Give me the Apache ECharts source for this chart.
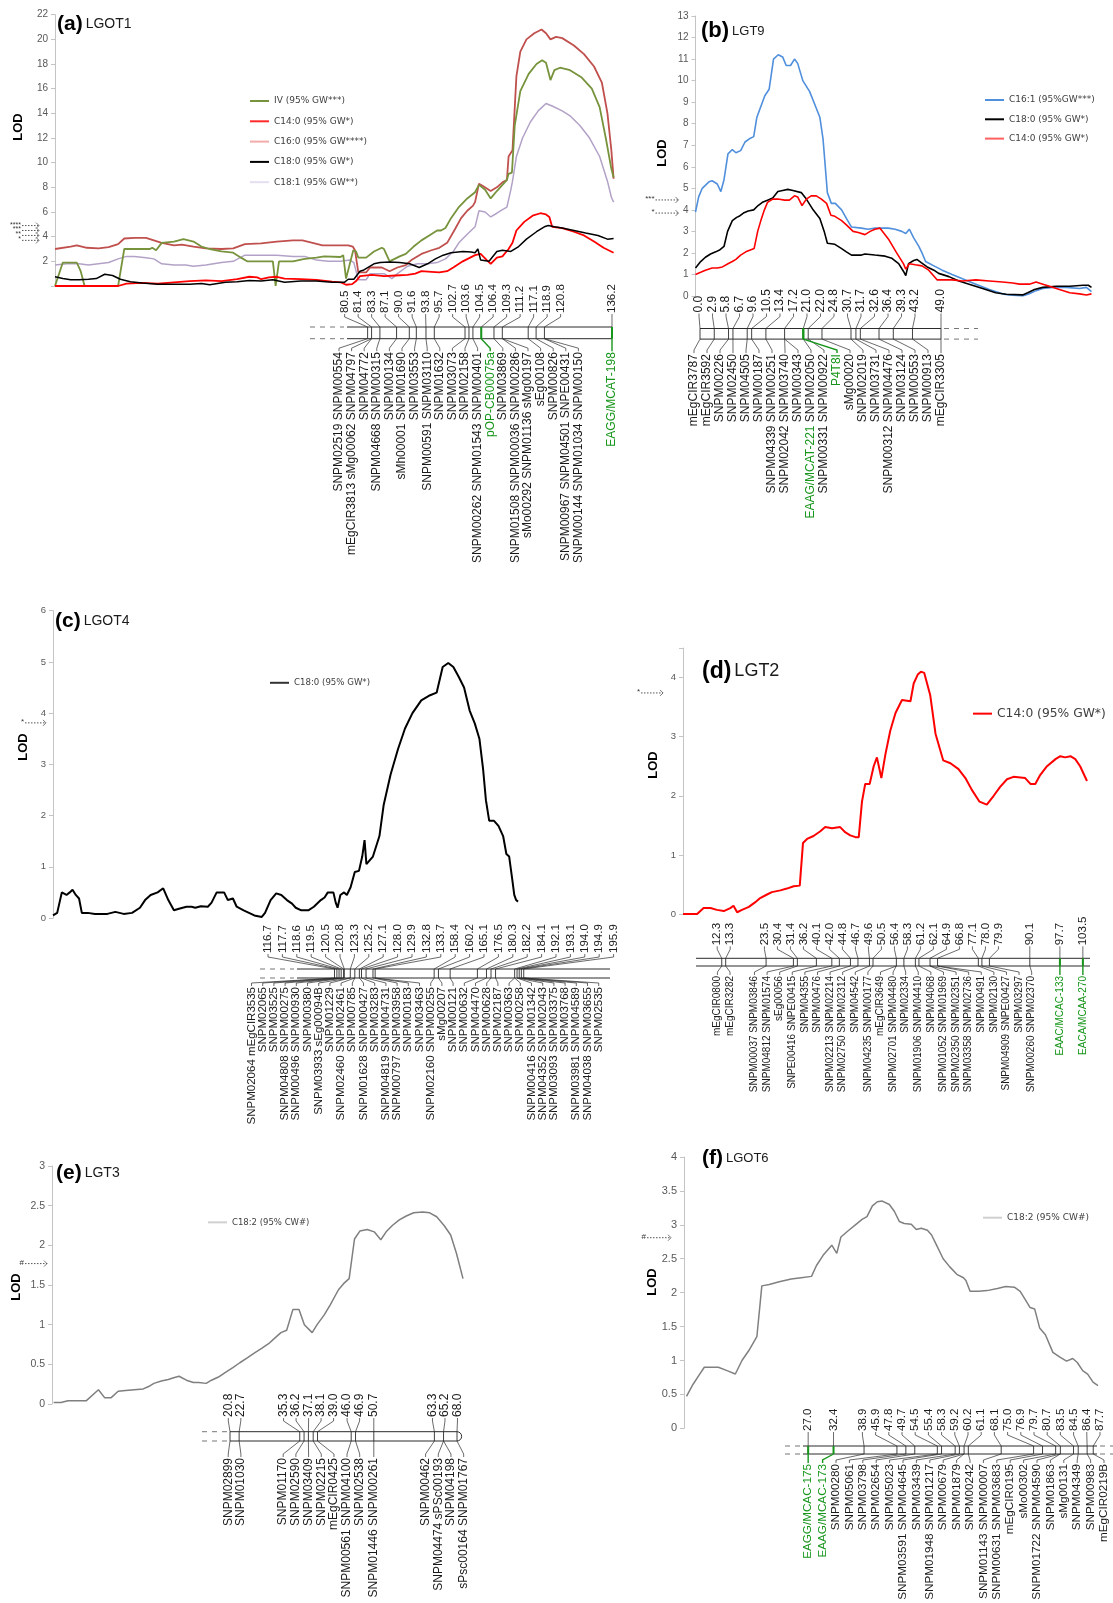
<!DOCTYPE html>
<html>
<head>
<meta charset="utf-8">
<title>LOD profiles and linkage groups</title>
<script src="https://cdn.jsdelivr.net/npm/echarts@6/dist/echarts.min.js"></script>
<style>
  html, body { margin: 0; padding: 0; background: #fff; }
  #chart { width: 1113px; height: 1603px; }
</style>
</head>
<body>
<div id="chart"></div>
<script>
// ---------- LOD profiles: [relative position along the scan (%), LOD] ----------
const lgot1IV = [[0,0],[0.35,0],[1.4,1.9],[3.9,1.9],[4.6,1.2],[5.3,0],[11.3,0],[12.4,3.0],[17.0,3.0],[17.4,3.1],[18.1,2.9],[19.1,3.5],[21.3,3.6],[23.0,3.8],[24.8,3.6],[26.2,3.2],[27.7,3.0],[29.8,2.8],[31.9,2.7],[33.3,2.3],[34.4,2.0],[39.0,2.0],[39.5,0],[40.1,2.0],[42.6,2.0],[44.7,2.2],[46.8,2.3],[48.2,2.4],[51.1,2.35],[51.6,2.5],[52.1,0.6],[53.4,2.9],[53.9,2.8],[54.3,2.3],[55.7,2.3],[57.1,2.8],[58.5,3.1],[58.9,3.0],[59.9,2.0],[61.7,2.4],[62.8,2.6],[64.2,3.2],[65.6,3.7],[67.0,4.1],[68.4,4.5],[69.1,4.5],[69.9,4.7],[70.9,5.5],[72.3,6.4],[73.8,7.1],[75.2,7.6],[75.9,8.2],[77.0,7.8],[78.0,7.1],[79.1,7.7],[80.1,8.2],[80.9,8.6],[81.2,9.1],[81.8,9.2],[82.3,13.0],[83.3,15.8],[84.8,17.2],[86.2,18.0],[87.2,18.3],[87.9,18.1],[88.7,16.7],[89.4,17.5],[90.4,17.7],[92.2,17.5],[94.3,16.9],[96.1,16.0],[97.5,14.5],[98.6,12.0],[99.6,9.5],[100,8.8]];
const lgot1C16 = [[0,3.0],[2.8,3.2],[3.9,3.3],[5.7,3.1],[7.8,3.05],[9.6,3.15],[11.3,3.4],[12.4,3.85],[14.2,3.9],[16.3,3.9],[17.7,3.7],[19.1,3.5],[21.3,3.3],[22.7,3.35],[24.8,3.2],[27.0,3.05],[29.8,3.0],[31.9,3.05],[34.0,3.4],[36.9,3.45],[39.7,3.6],[42.6,3.7],[44.3,3.7],[46.1,3.5],[47.9,3.3],[51.1,3.3],[52.5,3.3],[53.3,3.2],[53.7,2.9],[54.3,1.1],[55.7,1.1],[56.4,1.5],[58.5,1.5],[59.9,1.2],[61.3,1.5],[62.8,1.7],[63.8,2.1],[65.6,2.6],[67.4,2.9],[68.8,3.1],[70.2,3.5],[71.6,4.6],[72.7,5.5],[73.8,6.1],[74.8,6.5],[75.2,6.8],[75.9,8.3],[76.6,8.1],[78.0,7.7],[79.1,8.0],[80.1,8.4],[80.9,8.6],[81.2,10.5],[81.9,11.0],[82.6,17.0],[83.3,19.0],[84.4,20.0],[85.8,20.5],[87.1,20.8],[87.9,20.5],[88.7,20.0],[89.7,20.2],[90.8,20.1],[92.9,19.5],[94.7,18.8],[96.5,17.8],[97.9,16.5],[98.9,14.0],[99.6,11.0],[100,8.7]];
const lgot1C181 = [[0,1.7],[2.1,1.8],[4.3,1.8],[6.0,1.7],[7.8,1.8],[9.6,1.9],[11.3,2.2],[12.8,2.4],[14.2,2.4],[16.3,2.3],[17.7,2.2],[19.1,1.8],[21.3,1.7],[23.4,1.7],[24.8,1.6],[27.0,1.7],[29.8,1.9],[31.9,2.0],[34.0,2.5],[36.9,2.5],[39.7,2.5],[42.6,2.4],[44.7,2.4],[46.8,2.1],[48.9,2.0],[51.1,2.0],[52.8,2.1],[53.5,1.9],[54.3,0.5],[55.7,0.5],[56.4,1.0],[58.9,1.0],[60.3,0.6],[61.3,1.0],[63.1,1.6],[64.9,1.8],[66.7,1.8],[68.4,1.9],[69.9,2.2],[71.3,2.8],[72.3,3.5],[73.8,4.2],[75.2,4.8],[75.9,6.1],[77.0,6.0],[78.0,5.6],[79.1,5.9],[80.1,6.2],[80.9,6.4],[81.6,7.8],[81.9,8.5],[82.6,10.5],[83.7,12.0],[85.1,13.3],[86.5,14.2],[87.9,14.8],[89.0,14.6],[90.8,14.2],[92.2,13.8],[94.0,13.0],[95.7,12.0],[97.5,10.5],[98.9,8.5],[99.6,7.2],[100,6.8]];
const lgot1C14 = [[0,0],[11.3,0],[12.8,0.2],[15.6,0.25],[18.4,0.2],[21.3,0.3],[24.1,0.4],[27.0,0.45],[29.8,0.4],[32.6,0.55],[34.8,0.75],[36.2,0.7],[36.9,0.55],[38.3,0.7],[39.7,0.75],[41.1,0.6],[44.0,0.55],[46.8,0.5],[49.6,0.35],[51.1,0.3],[52.1,0.1],[53.2,0.15],[53.9,0.4],[54.6,0.8],[56.7,0.9],[58.9,0.8],[61.0,0.85],[63.1,0.9],[64.5,1.0],[65.6,1.2],[67.4,1.15],[68.8,1.1],[70.2,1.2],[71.3,1.5],[73.0,2.0],[75.2,2.5],[76.2,2.6],[77.3,2.1],[78.0,1.8],[79.1,2.3],[80.1,2.4],[81.2,3.0],[81.9,3.5],[82.6,4.5],[84.0,5.2],[85.5,5.7],[86.9,5.9],[87.9,5.8],[88.5,5.6],[89.0,4.8],[90.8,4.7],[92.9,4.4],[94.7,4.1],[96.5,3.6],[98.2,3.1],[100,2.7]];
const lgot1C18 = [[0,0.75],[1.4,0.6],[2.8,0.5],[4.3,0.5],[6.0,0.55],[7.4,0.6],[8.9,0.95],[10.3,0.85],[11.7,0.55],[13.5,0.35],[15.6,0.25],[18.4,0.15],[21.3,0.15],[24.1,0.15],[26.2,0.2],[27.7,0.1],[30.5,0.3],[32.6,0.35],[34.8,0.45],[36.9,0.4],[39.0,0.5],[41.1,0.3],[44.0,0.4],[46.8,0.4],[49.6,0.3],[51.8,0.3],[52.5,0.55],[53.5,0.55],[54.6,1.2],[55.3,1.3],[57.1,1.8],[58.2,1.9],[59.9,1.95],[61.7,1.9],[63.5,1.8],[65.2,1.5],[66.7,1.8],[68.1,2.2],[69.5,2.5],[70.9,2.7],[73.0,2.8],[74.5,2.75],[75.2,2.7],[75.7,3.0],[76.2,2.1],[77.7,2.0],[79.1,2.8],[80.1,2.9],[81.6,2.8],[83.0,3.2],[84.4,3.8],[86.2,4.4],[87.6,4.8],[88.3,4.9],[89.4,4.8],[90.8,4.7],[92.9,4.5],[95.0,4.3],[97.2,4.1],[98.9,3.8],[100,3.85]];

const lgt9C161 = [[0,3.9],[0.8,4.6],[1.7,5.0],[3.4,5.3],[4.2,5.35],[5.5,5.2],[6.4,4.85],[7.2,5.4],[8.2,6.6],[9.3,6.8],[10.2,6.65],[11.4,6.75],[12.5,7.15],[13.6,7.3],[14.7,7.4],[15.5,8.3],[16.5,8.8],[17.5,9.3],[18.6,9.6],[19.7,11.0],[20.9,11.2],[22.0,11.1],[22.9,10.7],[24.0,10.7],[25.0,11.0],[25.8,10.8],[27.1,10.0],[28.8,9.5],[30.1,8.9],[31.4,8.3],[32.2,7.3],[33.3,4.8],[34.3,4.3],[35.3,4.3],[36.9,4.0],[38.1,3.6],[39.4,3.2],[41.9,3.15],[43.6,3.1],[45.3,3.15],[48.7,3.15],[50.4,3.1],[52.1,3.0],[53.1,2.9],[54.0,3.1],[55.1,2.7],[56.4,2.3],[57.2,2.0],[58.1,1.6],[60.2,1.4],[62.3,1.2],[64.8,1.0],[67.4,0.8],[70.8,0.55],[74.2,0.3],[77.5,0.1],[79.2,0.05],[82.6,0.0],[84.3,0.1],[86.0,0.25],[87.7,0.35],[90.3,0.4],[93.6,0.4],[97.0,0.35],[98.7,0.4],[100,0.2]];
const lgt9C18 = [[0,1.3],[1.3,1.6],[2.5,1.8],[3.8,1.95],[5.1,2.05],[6.2,2.15],[7.2,2.3],[8.1,3.0],[9.3,3.5],[10.4,3.65],[11.0,3.7],[12.1,3.85],[13.3,3.95],[14.7,4.0],[15.8,4.2],[16.9,4.35],[18.2,4.45],[19.5,4.55],[20.8,4.85],[22.0,4.9],[23.3,4.95],[24.6,4.9],[26.7,4.8],[28.0,4.5],[29.7,4.0],[31.4,3.6],[32.5,3.0],[33.3,2.45],[35.2,2.4],[36.9,2.2],[38.1,2.05],[39.4,1.9],[41.9,1.9],[42.8,1.95],[45.3,1.9],[47.9,1.85],[49.6,1.75],[51.3,1.5],[52.5,1.15],[53.1,0.95],[53.8,1.5],[55.1,1.65],[55.9,1.7],[57.0,1.55],[58.5,1.35],[60.2,1.2],[61.4,1.05],[64.0,0.9],[66.5,0.7],[69.1,0.55],[72.5,0.35],[75.8,0.15],[78.4,0.08],[82.6,0.05],[83.9,0.15],[85.6,0.3],[87.7,0.4],[91.1,0.45],[94.5,0.45],[97.9,0.5],[99.2,0.5],[100,0.4]];
const lgt9C14 = [[0,1.0],[1.3,1.1],[2.5,1.2],[4.2,1.3],[5.5,1.3],[6.8,1.35],[8.2,1.5],[9.3,1.6],[10.2,1.7],[11.4,1.9],[12.7,2.05],[14.0,2.15],[14.8,2.2],[15.7,3.0],[16.5,3.5],[17.4,4.0],[18.2,4.35],[19.5,4.5],[20.8,4.5],[22.5,4.45],[23.7,4.45],[25.0,4.65],[25.8,4.6],[26.9,4.2],[28.0,4.5],[29.2,4.65],[30.5,4.65],[31.8,4.5],[33.1,4.3],[34.2,3.75],[35.2,3.7],[36.9,3.5],[38.1,3.3],[39.8,3.0],[41.1,2.95],[42.8,2.85],[44.1,3.0],[45.3,3.1],[46.6,3.15],[48.7,2.65],[50.8,2.0],[52.5,1.5],[53.1,1.25],[54.0,1.5],[55.5,1.45],[57.2,1.4],[58.9,1.2],[61.0,0.75],[64.8,0.75],[67.4,0.7],[70.8,0.75],[74.2,0.7],[77.5,0.65],[80.1,0.6],[81.8,0.55],[84.3,0.55],[86.0,0.65],[87.7,0.55],[89.4,0.45],[91.9,0.3],[94.5,0.15],[97.0,0.1],[98.7,0.05],[100,0.1]];

const lgot4C18 = [[0,0.05],[0.9,0.1],[1.3,0.1],[1.9,0.5],[2.3,0.52],[2.9,0.45],[3.6,0.5],[4.2,0.55],[4.9,0.45],[5.6,0.38],[6.2,0.1],[7.5,0.1],[9.0,0.08],[11.7,0.08],[13.4,0.12],[15.2,0.08],[17.0,0.1],[18.7,0.2],[19.8,0.35],[21.0,0.45],[22.5,0.5],[23.7,0.58],[24.8,0.35],[26.0,0.15],[27.1,0.18],[28.7,0.22],[29.8,0.22],[30.6,0.2],[31.8,0.23],[33.3,0.22],[34.1,0.3],[35.2,0.5],[36.8,0.5],[37.6,0.35],[38.7,0.38],[39.5,0.22],[41.0,0.15],[43.3,0.05],[44.9,0.02],[45.6,0.1],[46.8,0.35],[48.0,0.48],[49.1,0.45],[50.3,0.35],[51.4,0.28],[52.2,0.2],[53.4,0.15],[54.9,0.15],[56.1,0.22],[57.6,0.35],[58.4,0.4],[59.1,0.5],[60.3,0.5],[60.8,0.3],[61.2,0.2],[61.8,0.45],[62.6,0.5],[63.2,0.45],[64.0,0.6],[64.9,0.9],[65.8,0.92],[66.5,1.2],[67.0,1.52],[67.4,1.05],[68.8,1.2],[70.2,1.6],[71.1,2.2],[72.6,2.8],[74.2,3.3],[75.7,3.7],[77.3,4.0],[79.2,4.25],[81.1,4.35],[82.5,4.4],[83.8,4.9],[85.0,4.98],[86.1,4.9],[87.3,4.7],[88.4,4.5],[89.6,4.05],[90.7,3.8],[91.7,3.5],[92.5,2.9],[93.1,2.3],[93.8,1.9],[94.8,1.9],[95.8,1.8],[96.8,1.6],[97.5,1.25],[98.1,1.2],[98.7,0.8],[99.2,0.45],[99.6,0.35],[100,0.32]];

const lgt2C14 = [[0,0],[3.5,0.0],[5.1,0.1],[6.8,0.1],[8.4,0.07],[10.1,0.05],[11.7,0.1],[12.5,0.14],[13.4,0.03],[14.6,0.07],[16.3,0.12],[17.9,0.2],[19.1,0.27],[20.8,0.33],[22.0,0.37],[24.1,0.4],[25.7,0.43],[27.4,0.47],[28.9,0.48],[29.7,1.2],[30.7,1.27],[32.3,1.32],[34.0,1.4],[35.2,1.47],[36.9,1.45],[38.9,1.47],[40.2,1.38],[41.4,1.33],[42.7,1.3],[43.5,1.3],[44.3,1.9],[45.1,2.2],[46.2,2.2],[47.2,2.5],[48.0,2.65],[49.1,2.3],[50.1,2.7],[51.3,3.1],[52.6,3.4],[54.2,3.62],[56.3,3.6],[57.1,3.9],[58.1,4.05],[58.9,4.1],[59.7,4.08],[61.2,3.7],[62.5,3.05],[64.4,2.6],[66.2,2.55],[68.2,2.45],[69.9,2.3],[71.5,2.1],[73.4,1.9],[75.2,1.85],[76.9,2.0],[78.5,2.15],[80.2,2.28],[81.8,2.32],[84.7,2.3],[86.0,2.2],[87.2,2.2],[88.4,2.35],[90.1,2.5],[92.2,2.62],[93.4,2.67],[94.6,2.65],[95.9,2.67],[97.1,2.62],[98.3,2.5],[100,2.25]];

const lgt3C182 = [[0.4,0.02],[2.2,0.02],[3.9,0.04],[6.1,0.04],[8.3,0.04],[11.3,0.18],[12.8,0.08],[14.4,0.08],[16.1,0.16],[17.9,0.17],[20.0,0.18],[22.2,0.19],[23.5,0.22],[24.8,0.26],[26.6,0.29],[28.3,0.31],[29.6,0.33],[30.9,0.35],[32.7,0.3],[34.4,0.27],[35.7,0.27],[37.5,0.26],[38.8,0.3],[40.5,0.34],[42.2,0.4],[44.0,0.46],[45.7,0.52],[47.5,0.58],[49.2,0.64],[51.0,0.7],[52.7,0.76],[54.4,0.84],[55.7,0.9],[57.1,0.93],[58.6,1.19],[60.1,1.19],[61.4,1.0],[63.3,0.9],[64.5,1.0],[66.2,1.12],[67.7,1.25],[69.7,1.44],[71.0,1.52],[72.3,1.58],[73.6,2.08],[74.9,2.18],[76.7,2.2],[78.4,2.17],[80.0,2.07],[81.3,2.17],[82.8,2.25],[84.5,2.32],[86.2,2.37],[88.0,2.41],[90.2,2.42],[91.9,2.41],[93.6,2.36],[95.4,2.25],[97.0,2.13],[98.4,1.9],[100,1.58]];

const lgot6C182 = [[0.6,0.47],[2.2,0.65],[3.6,0.78],[4.9,0.9],[6.7,0.9],[8.3,0.9],[10.4,0.85],[12.4,0.8],[14.0,1.0],[15.7,1.15],[17.6,1.35],[18.8,2.1],[20.6,2.12],[23.0,2.16],[25.9,2.2],[28.3,2.22],[30.8,2.24],[32.0,2.4],[33.6,2.55],[35.7,2.7],[36.9,2.58],[37.9,2.82],[39.8,2.92],[41.4,3.0],[43.0,3.08],[44.2,3.12],[45.5,3.28],[46.7,3.34],[47.9,3.35],[49.6,3.3],[50.8,3.2],[52.0,3.05],[53.2,3.02],[54.9,3.01],[56.1,2.93],[57.3,2.95],[58.8,2.92],[59.8,2.85],[61.0,2.7],[62.6,2.5],[64.2,2.38],[65.9,2.27],[67.5,2.22],[68.1,2.18],[69.1,2.02],[71.2,2.02],[73.2,2.03],[75.7,2.06],[77.7,2.09],[79.8,2.08],[81.2,2.02],[82.4,1.9],[83.6,1.78],[84.7,1.76],[85.9,1.48],[87.3,1.38],[89.1,1.12],[90.8,1.05],[92.4,0.99],[93.9,1.03],[95.0,0.97],[96.3,0.85],[97.5,0.8],[98.8,0.68],[100,0.63]];

// ---------- significance thresholds (LOD) ----------
const lgot1Thr = [3.7, 4.1, 4.5, 4.9];
const lgot1ThrLab = ['*', '**', '***', '****'];
const lgt9Thr = [4.46, 3.85];
const lgt9ThrLab = ['***', '*'];
const lgot4Thr = [3.81];
const lgt2Thr = [3.74];
const lgt3Thr = [1.77];
const lgot6Thr = [2.81];

// ---------- linkage maps: marker positions (cM) and marker names ----------
const lgot1Pos = [80.5, 81.4, 83.3, 87.1, 90.0, 91.6, 93.8, 95.7, 102.7, 103.6, 104.5, 106.4, 109.3, 111.2, 117.1, 118.9, 120.8, 136.2];
const lgot1Names = ['SNPM02519 SNPM00554', 'mEgCIR3813 sMg00062 SNPM04797', 'SNPM04772', 'SNPM04668 SNPM00315', 'SNPM00134', 'sMh00001 SNPM01690', 'SNPM03553', 'SNPM00591 SNPM03110', 'SNPM01632', 'SNPM03073', 'SNPM02158', 'SNPM00262 SNPM01543 SNPM00401', 'pOP-CB00075a', 'SNPM03869', 'SNPM01508 SNPM00036 SNPM00286', 'sMo00292 SNPM01136 sMg00197', 'sEg00108', 'SNPM00826', 'SNPM00967 SNPM04501 SNPE00431', 'SNPM00144 SNPM01034 SNPM00150', 'EAGG/MCAT-198'];
const lgot1NameCm = [80.5, 81.4, 81.4, 83.3, 87.1, 90.0, 91.6, 93.8, 95.7, 102.7, 103.6, 104.5, 106.4, 109.3, 111.2, 111.2, 117.1, 118.9, 120.8, 120.8, 136.2];

const lgt9Pos = [0.0, 2.9, 5.8, 6.7, 9.6, 10.5, 13.4, 17.2, 21.0, 22.0, 24.8, 30.7, 31.7, 32.6, 36.4, 39.3, 43.2, 49.0];
const lgt9Names = ['mEgCIR3787', 'mEgCIR3592', 'SNPM00226', 'SNPM02450', 'SNPM04505', 'SNPM00187', 'SNPM04339 SNPM00251', 'SNPM02042 SNPM03740', 'SNPM00343', 'EAAG/MCAT-221 SNPM02050', 'SNPM00331 SNPM00922', 'P4T8I', 'sMg00020', 'SNPM02019', 'SNPM03731', 'SNPM00312 SNPM04476', 'SNPM03124', 'SNPM00553', 'SNPM00913', 'mEgCIR3305'];
const lgt9NameCm = [0.0, 2.9, 5.8, 6.7, 9.6, 10.5, 13.4, 17.2, 17.2, 21.0, 22.0, 21.0, 24.8, 30.7, 31.7, 32.6, 36.4, 39.3, 43.2, 49.0];

const lgot4Pos = [116.7, 117.7, 118.6, 119.5, 120.5, 120.8, 123.3, 125.2, 127.1, 128.0, 129.9, 132.8, 133.7, 158.4, 160.2, 165.1, 176.5, 180.3, 182.2, 184.1, 192.1, 193.1, 194.0, 194.9, 195.9];
const lgot4Names = ['SNPM02064 mEgCIR3535', 'SNPM02065', 'SNPM03525', 'SNPM04808 SNPM00275', 'SNPM00496 SNPM00930', 'SNPM00380', 'SNPM03933 sEg00094B', 'SNPM01229', 'SNPM02460 SNPM02461', 'SNPM00785', 'SNPM01628 SNPM00427', 'SNPM03283', 'SNPM04819 SNPM04731', 'SNPM00797 SNPM03958', 'SNPM00183', 'SNPM03463', 'SNPM02160 SNPM00255', 'sMg00207', 'SNPM00121', 'SNPM00632', 'SNPM04470', 'SNPM00628', 'SNPM02187', 'SNPM00363', 'SNPM00258', 'SNPM00416 SNPM01342', 'SNPM04352 SNPM02043', 'SNPM03093 SNPM03375', 'SNPM03768', 'SNPM03981 SNPM04589', 'SNPM04038 SNPM03655', 'SNPM02535'];
const lgot4NameCm = [116.7, 117.7, 118.6, 119.5, 120.5, 120.8, 123.3, 123.3, 125.2, 125.2, 127.1, 128.0, 129.9, 132.8, 133.7, 133.7, 158.4, 160.2, 165.1, 176.5, 180.3, 182.2, 184.1, 192.1, 192.1, 193.1, 193.1, 194.0, 194.0, 194.9, 195.9, 195.9];

const lgt2Pos = [12.3, 13.3, 23.5, 30.4, 31.4, 36.2, 40.1, 42.0, 44.8, 46.7, 49.6, 50.5, 56.4, 58.3, 61.2, 62.1, 64.9, 66.8, 77.1, 78.0, 79.9, 90.1, 97.7, 103.5];
const lgt2Names = ['mEgCIR0800', 'mEgCIR3282', 'SNPM00037 SNPM03846', 'SNPM04812 SNPM01574', 'sEg00056', 'SNPE00416 SNPE00415', 'SNPM04355', 'SNPM00476', 'SNPM02213 SNPM02214', 'SNPM02750 SNPM02312', 'SNPM04542', 'SNPM04235 SNPM00177', 'mEgCIR3649', 'SNPM02701 SNPM04480', 'SNPM02334', 'SNPM01906 SNPM04410', 'SNPM04068', 'SNPM01052 SNPM01969', 'SNPM02350 SNPM02351', 'SNPM03358 SNPM02736', 'SNPM00491', 'SNPM02130', 'SNPM04909 SNPE00427', 'SNPM03297', 'SNPM00260 SNPM02370', 'EAAC/MCAC-133', 'EACA/MCAA-270'];
const lgt2NameCm = [12.3, 13.3, 23.5, 30.4, 31.4, 36.2, 40.1, 42.0, 44.8, 46.7, 49.6, 50.5, 56.4, 56.4, 58.3, 61.2, 62.1, 64.9, 64.9, 66.8, 66.8, 77.1, 78.0, 79.9, 90.1, 97.7, 103.5];

const lgt3Pos = [20.8, 22.7, 35.3, 36.2, 37.1, 38.1, 39.0, 46.0, 46.9, 50.7, 63.3, 65.2, 68.0];
const lgt3Names = ['SNPM02899', 'SNPM01030', 'SNPM01170', 'SNPM02590', 'SNPM03409', 'SNPM02215', 'mEgCIR0425', 'SNPM00561 SNPM04100', 'SNPM02538', 'SNPM01446 SNPM00261', 'SNPM00462', 'SNPM04474 sPSc00193', 'SNPM04198', 'sPsc00164 SNPM01767'];
const lgt3NameCm = [20.8, 22.7, 35.3, 36.2, 37.1, 38.1, 39.0, 46.0, 46.9, 50.7, 63.3, 65.2, 65.2, 68.0];

const lgot6Pos = [27.0, 32.4, 38.9, 45.9, 47.8, 49.7, 54.5, 55.4, 58.3, 59.2, 60.2, 61.1, 68.1, 75.0, 76.9, 79.7, 80.7, 83.5, 84.5, 86.4, 87.7];
const lgot6Names = ['EAGG/MCAC-175', 'EAAG/MCAC-173', 'SNPM00280', 'SNPM05061', 'SNPM03798', 'SNPM02654', 'SNPM05023', 'SNPM03591 SNPM04645', 'SNPM03439', 'SNPM01948 SNPM01217', 'SNPM00679', 'SNPM01879', 'SNPM00242', 'SNPM01143 SNPM00007', 'SNPM00631 SNPM03683', 'mEgCIR0195', 'sMo00302', 'SNPM01722 SNPM04590', 'SNPM01863', 'sMg00131', 'SNPM04349', 'SNPM00983', 'mEgCIR0219B'];
const lgot6NameCm = [27.0, 32.4, 38.9, 45.9, 47.8, 49.7, 54.5, 55.4, 58.3, 59.2, 60.2, 60.2, 61.1, 68.1, 75.0, 76.9, 79.7, 80.7, 80.7, 83.5, 84.5, 86.4, 87.7];

// AFLP / candidate-gene markers shown in green
const greenMarkers = ['pOP-CB00075a', 'EAGG/MCAT-198', 'EAAG/MCAT-221', 'P4T8I', 'EAAC/MCAC-133', 'EACA/MCAA-270', 'EAGG/MCAC-175', 'EAAG/MCAC-173'];

const FONT = 'Liberation Sans, Arial, sans-serif';
const INK = '#2b2b2b';
const GREEN = '#17961b';

// panel layout and styling (label limits are in pixels)
const panels = [
  { title: '(a)', sub: 'LGOT1', titleAt: [57, 14], titleSize: [21, 14],
    plot: { left: 55, top: 14.7, width: 558.6, height: 271.3 }, ymax: 22, step: 2, tickFont: 10,
    fmt: v => (v === 0 ? '' : v), lodAt: [18, 127],
    lines: [['C18:1 (95% GW**)', lgot1C181, '#b3a2c7', 1.5], ['C16:0 (95% GW****)', lgot1C16, '#c0504d', 1.8],
            ['IV (95% GW***)', lgot1IV, '#77933c', 1.8], ['C14:0 (95% GW*)', lgot1C14, '#ff0000', 1.8],
            ['C18:0 (95% GW*)', lgot1C18, '#000000', 1.5]],
    legend: { left: 250, top: 95, gap: 8.3, font: 9,
      items: [['IV (95% GW***)', '#77933c'], ['C14:0 (95% GW*)', '#ff2a2a'], ['C16:0 (95% GW****)', '#f2aaaa'],
              ['C18:0 (95% GW*)', '#000'], ['C18:1 (95% GW**)', '#e4def0']] },
    thr: lgot1Thr, thrLab: lgot1ThrLab, arrow: [33, 16], thrFont: 7,
    map: { left: 347, width: 265, top: 327, height: 11.7, range: [75.8, 136.2], pos: lgot1Pos, names: lgot1Names, nameCm: lgot1NameCm,
           posGap: 13.5, nameGap: 12.6, posConn: 13, nameConn: 12.5, posFont: 11.5, nameFont: 12, dashL: 37,
           nameLim: [339, null] } },
  { title: '(b)', sub: 'LGT9', titleAt: [701, 20], titleSize: [22, 13],
    plot: { left: 695.5, top: 16, width: 396, height: 280 }, ymax: 13, step: 1, tickFont: 10, lodAt: [662, 153],
    lines: [['C16:1 (95%GW***)', lgt9C161, '#4f8fdc', 1.6], ['C18:0 (95% GW*)', lgt9C18, '#000000', 1.6],
            ['C14:0 (95% GW*)', lgt9C14, '#ff0000', 1.6]],
    legend: { left: 985, top: 94, gap: 7.3, font: 9,
      items: [['C16:1 (95%GW***)', '#4f8fdc'], ['C18:0 (95% GW*)', '#000'], ['C14:0 (95% GW*)', '#ff6060']] },
    thr: lgt9Thr, thrLab: lgt9ThrLab, arrow: [40, 17], thrFont: 8,
    map: { left: 700, width: 241, top: 328.5, height: 10.6, range: [0, 49], pos: lgt9Pos, names: lgt9Names, nameCm: lgt9NameCm,
           posGap: 13.5, nameGap: 13, posConn: 15, nameConn: 14, posFont: 12, nameFont: 12, dashR: 37,
           posLim: [699, null], nameLim: [694, null] } },
  { title: '(c)', sub: 'LGOT4', titleAt: [55, 611], titleSize: [21, 14],
    plot: { left: 53, top: 610.7, width: 465, height: 307.3 }, ymax: 6, step: 1, tickFont: 9.5, lodAt: [23, 747],
    lines: [['C18:0 (95% GW*)', lgot4C18, '#000000', 2]],
    legend: { left: 270, top: 677, gap: 8, font: 8.6, items: [['C18:0 (95% GW*)', '#333']] },
    thr: lgot4Thr, thrLab: ['*'], arrow: [28, 7], thrFont: 8,
    map: { left: 297, width: 313, top: 969, height: 9, range: [101, 232], pos: lgot4Pos, names: lgot4Names, nameCm: lgot4NameCm,
           posGap: 14.4, nameGap: 11.2, posConn: 15, nameConn: 8, posFont: 11.5, nameFont: 11.5, dashL: 37,
           posLim: [268, null] } },
  { title: '(d)', sub: 'LGT2', titleAt: [702, 660], titleSize: [23, 18],
    plot: { left: 683, top: 648, width: 404, height: 266 }, ymax: 4.5, step: 1, tickFont: 9.5,
    fmt: v => (Number.isInteger(v) ? v : ''), lodAt: [653, 765],
    lines: [['C14:0 (95% GW*)', lgt2C14, '#ff0000', 2]],
    legend: { left: 973, top: 706, gap: 8, font: 12.3, items: [['C14:0 (95% GW*)', '#ff0000']] },
    thr: lgt2Thr, thrLab: ['*'], arrow: [42, 20], thrFont: 8,
    map: { left: 696, width: 394, top: 958.3, height: 7.7, range: [5.8, 105.3], pos: lgt2Pos, names: lgt2Names, nameCm: lgt2NameCm,
           posGap: 13, nameGap: 12.6, posConn: 12, nameConn: 9, posFont: 11.5, nameFont: 10,
           posLim: [717, null], nameLim: [716, null] } },
  { title: '(e)', sub: 'LGT3', titleAt: [56, 1163], titleSize: [21, 14],
    plot: { left: 52, top: 1166, width: 411, height: 238 }, ymax: 3, step: 0.5, tickFont: 10.5, lodAt: [16, 1287],
    lines: [['C18:2 (95% CW#)', lgt3C182, '#7f7f7f', 1.5]],
    legend: { left: 208, top: 1216.6, gap: 8, font: 8.5, items: [['C18:2 (95% CW#)', '#d0d0d0']] },
    thr: lgt3Thr, thrLab: ['#'], arrow: [27, 5], thrFont: 8,
    map: { left: 230, width: 227, top: 1431.7, height: 9.3, range: [20.8, 68.0], pos: lgt3Pos, names: lgt3Names, nameCm: lgt3NameCm,
           posGap: 12.5, nameGap: 12.7, posConn: 13.7, nameConn: 16, posFont: 12, nameFont: 12, dashL: 28, cap: true } },
  { title: '(f)', sub: 'LGOT6', titleAt: [702, 1148], titleSize: [21, 13],
    plot: { left: 684, top: 1157, width: 414, height: 271.3 }, ymax: 4, step: 0.5, tickFont: 11, lodAt: [652, 1282],
    lines: [['C18:2 (95% CW#)', lgot6C182, '#808080', 1.5]],
    legend: { left: 983, top: 1211.7, gap: 8, font: 9, items: [['C18:2 (95% CW#)', '#d0d0d0']] },
    thr: lgot6Thr, thrLab: ['#'], arrow: [37, 13], thrFont: 8,
    map: { left: 803, width: 294, top: 1446, height: 8, range: [25.9, 88.5], pos: lgot6Pos, names: lgot6Names, nameCm: lgot6NameCm,
           posGap: 13.2, nameGap: 13.4, posConn: 14, nameConn: 9, posFont: 11.5, nameFont: 11.7, dashL: 18, dashR: 18,
           posLim: [null, 1100], nameLim: [null, 1104] } }
];

// spread label slots apart: isotonic fit keeping a minimum gap between neighbours, then clamp to limits
function spread(vals, gap, lo, hi) {
  const blocks = [];
  vals.forEach((v, i) => {
    let b = { sum: v - i * gap, n: 1 };
    while (blocks.length && blocks[blocks.length - 1].sum / blocks[blocks.length - 1].n > b.sum / b.n) {
      const p = blocks.pop();
      b = { sum: p.sum + b.sum, n: p.n + b.n };
    }
    blocks.push(b);
  });
  const out = [];
  blocks.forEach(b => { for (let k = 0; k < b.n; k++) out.push(b.sum / b.n + out.length * gap); });
  const n = out.length;
  return out.map((s, i) => {
    if (lo != null) s = Math.max(s, lo + i * gap);
    if (hi != null) s = Math.min(s, hi - (n - 1 - i) * gap);
    return s;
  });
}

const grids = [], xAxes = [], yAxes = [], series = [], legends = [], titles = [], texts = [];

panels.forEach((p, k) => {
  const gi = 2 * k, mi = 2 * k + 1, m = p.map;

  // ---- LOD plot
  grids.push({ left: p.plot.left, top: p.plot.top, width: p.plot.width, height: p.plot.height, outerBoundsMode: 'none' });
  xAxes.push({ type: 'value', gridIndex: gi, min: 0, max: 100, show: false });
  yAxes.push({
    type: 'value', gridIndex: gi, min: 0, max: p.ymax, interval: p.step,
    axisLine: { show: true, lineStyle: { color: '#c4c4c4' } },
    axisTick: { show: true, length: 4, lineStyle: { color: '#c4c4c4' } },
    axisLabel: { fontSize: p.tickFont, color: '#595959', fontFamily: FONT, margin: 7, formatter: p.fmt },
    splitLine: { show: false }
  });
  p.lines.forEach(([name, data, color, w]) => series.push({
    type: 'line', name, data, xAxisIndex: gi, yAxisIndex: gi, showSymbol: false, symbol: 'none',
    lineStyle: { color, width: w }, itemStyle: { color }, silent: true, z: 2
  }));
  legends.push({
    data: p.legend.items.map(([name, color]) => ({ name, itemStyle: { color } })),
    orient: 'vertical', left: p.legend.left, top: p.legend.top, padding: 0,
    itemWidth: 19, itemHeight: 2, icon: 'rect', itemGap: p.legend.gap, selectedMode: false,
    textStyle: { fontSize: p.legend.font, color: '#404040', fontFamily: 'DejaVu Sans', lineHeight: p.legend.font + 3 }
  });
  titles.push({
    text: '{b|' + p.title + '}{n|' + p.sub + '}', left: p.titleAt[0], top: p.titleAt[1], padding: 0,
    textStyle: { fontWeight: 'normal', rich: {
      b: { fontSize: p.titleSize[0], fontWeight: 'bold', fontFamily: FONT, color: '#000', verticalAlign: 'middle', padding: [0, 3, 0, 0] },
      n: { fontSize: p.titleSize[1], fontWeight: 'normal', fontFamily: FONT, color: '#1a1a1a', verticalAlign: 'middle' } } }
  });
  texts.push({ type: 'text', x: p.lodAt[0], y: p.lodAt[1], rotation: Math.PI / 2,
    style: { text: 'LOD', fill: '#000', font: 'bold 13px ' + FONT, align: 'center', verticalAlign: 'middle' } });

  // threshold arrows left of the LOD axis
  series.push({
    type: 'custom', xAxisIndex: gi, yAxisIndex: gi, silent: true, clip: false, z: 4,
    data: p.thr.map(t => [0, t]),
    renderItem(params, api) {
      const c = api.coord([0, api.value(1)]);
      const x1 = c[0] - p.arrow[0], x2 = c[0] - p.arrow[1];
      return { type: 'group', children: [
        { type: 'line', shape: { x1, y1: c[1], x2, y2: c[1] }, style: { stroke: '#555', lineWidth: 1, lineDash: [1.5, 1.5] } },
        { type: 'polyline', shape: { points: [[x2 - 3, c[1] - 3], [x2, c[1]], [x2 - 3, c[1] + 3]] }, style: { stroke: '#555', lineWidth: 0.8, fill: null } },
        { type: 'text', x: x1 - 1, y: c[1] - 1, style: { text: p.thrLab[params.dataIndex], fill: '#333', fontSize: p.thrFont, fontFamily: FONT, align: 'right', verticalAlign: 'middle' } }
      ] };
    }
  });

  // ---- linkage map
  grids.push({ left: m.left, top: m.top, width: m.width, height: m.height, outerBoundsMode: 'none' });
  xAxes.push({ type: 'value', gridIndex: mi, min: m.range[0], max: m.range[1], show: false });
  yAxes.push({ type: 'value', gridIndex: mi, min: 0, max: 1, show: false });

  const cmPerPx = (m.range[1] - m.range[0]) / m.width;
  const toCm = px => (px == null ? null : m.range[0] + (px - m.left) * cmPerPx);
  const posLim = m.posLim || [null, null], nameLim = m.nameLim || [null, null];
  const posSlot = spread(m.pos, m.posGap * cmPerPx, toCm(posLim[0]), toCm(posLim[1]));
  const nameSlot = spread(m.nameCm, m.nameGap * cmPerPx, toCm(nameLim[0]), toCm(nameLim[1]));

  // chromosome bar
  series.push({
    type: 'custom', xAxisIndex: mi, yAxisIndex: mi, silent: true, clip: false, z: 3,
    data: [[m.range[0], m.range[1], 0]], encode: { x: [0, 1], y: 2 },
    renderItem(params, api) {
      const a = api.coord([api.value(0), 1]), b = api.coord([api.value(1), 1]);
      const c = api.coord([api.value(0), 0]), d = api.coord([api.value(1), 0]);
      const ls = { stroke: INK, lineWidth: 1 };
      const dash = { stroke: '#777', lineWidth: 1, lineDash: [5, 5] };
      const kids = [
        { type: 'line', shape: { x1: a[0], y1: a[1], x2: b[0], y2: b[1] }, style: ls },
        { type: 'line', shape: { x1: c[0], y1: c[1], x2: d[0], y2: d[1] }, style: ls }
      ];
      if (m.dashL) {
        [a, c].forEach(q => kids.push({ type: 'line', shape: { x1: q[0] - m.dashL, y1: q[1], x2: q[0] - 3, y2: q[1] }, style: dash }));
      }
      if (m.dashR) {
        [b, d].forEach(q => kids.push({ type: 'line', shape: { x1: q[0] + 3, y1: q[1], x2: q[0] + m.dashR, y2: q[1] }, style: dash }));
      }
      if (m.cap) {
        const r = (d[1] - b[1]) / 2;
        kids.push({ type: 'arc', shape: { cx: b[0], cy: b[1] + r, r, startAngle: -Math.PI / 2, endAngle: Math.PI / 2, clockwise: true }, style: { stroke: INK, fill: null, lineWidth: 1 } });
      }
      return { type: 'group', children: kids };
    }
  });

  // marker positions above the bar
  series.push({
    type: 'custom', xAxisIndex: mi, yAxisIndex: mi, silent: true, clip: false, z: 4,
    data: m.pos.map((c, i) => [c, posSlot[i], 0]), encode: { x: [0, 1], y: 2 },
    renderItem(params, api) {
      const top = api.coord([api.value(0), 1]), bot = api.coord([api.value(0), 0]);
      const s = api.coord([api.value(1), 1]);
      const ly = top[1] - m.posConn;
      return { type: 'group', children: [
        { type: 'line', shape: { x1: top[0], y1: top[1], x2: bot[0], y2: bot[1] }, style: { stroke: INK, lineWidth: 0.9 } },
        { type: 'polyline', shape: { points: [[top[0], top[1]], [s[0], ly + 3], [s[0], ly]] }, style: { stroke: INK, lineWidth: 0.7, fill: null } },
        { type: 'text', x: s[0], y: ly - 1, rotation: Math.PI / 2,
          style: { text: m.pos[params.dataIndex].toFixed(1), fill: '#1a1a1a', fontSize: m.posFont, fontFamily: FONT, align: 'left', verticalAlign: 'middle' } }
      ] };
    }
  });

  // marker names below the bar
  series.push({
    type: 'custom', xAxisIndex: mi, yAxisIndex: mi, silent: true, clip: false, z: 5,
    data: m.nameCm.map((c, i) => [c, nameSlot[i], 0]), encode: { x: [0, 1], y: 2 },
    renderItem(params, api) {
      const label = m.names[params.dataIndex];
      const tokens = label.split(' ');
      const greens = tokens.filter(t => greenMarkers.includes(t));
      const allGreen = greens.length === tokens.length;
      const text = tokens.map(t => (greenMarkers.includes(t) ? '{g|' + t + '}' : t)).join(' ');
      const top = api.coord([api.value(0), 1]), bot = api.coord([api.value(0), 0]);
      const s = api.coord([api.value(1), 0]);
      const ny = bot[1] + m.nameConn;
      const kids = [];
      if (greens.length) {
        kids.push({ type: 'line', shape: { x1: top[0], y1: top[1], x2: bot[0], y2: bot[1] }, style: { stroke: GREEN, lineWidth: 2 } });
      }
      kids.push({ type: 'polyline', shape: { points: [[bot[0], bot[1]], [s[0], ny - 3], [s[0], ny]] },
        style: { stroke: allGreen ? GREEN : INK, lineWidth: allGreen ? 1.4 : 0.7, fill: null } });
      kids.push({ type: 'text', x: s[0], y: ny + 1, rotation: Math.PI / 2,
        style: { text, fill: '#1a1a1a', fontSize: m.nameFont, fontFamily: FONT, align: 'right', verticalAlign: 'middle',
          rich: { g: { fill: GREEN, fontSize: m.nameFont, fontFamily: FONT } } } });
      return { type: 'group', children: kids };
    }
  });
});

const chart = echarts.init(document.getElementById('chart'), null, { renderer: 'canvas' });
chart.setOption({
  backgroundColor: '#ffffff',
  animation: false,
  title: titles,
  legend: legends,
  grid: grids,
  xAxis: xAxes,
  yAxis: yAxes,
  series: series,
  graphic: { elements: texts }
});
window.addEventListener('resize', function () { chart.resize(); });
</script>
</body>
</html>
